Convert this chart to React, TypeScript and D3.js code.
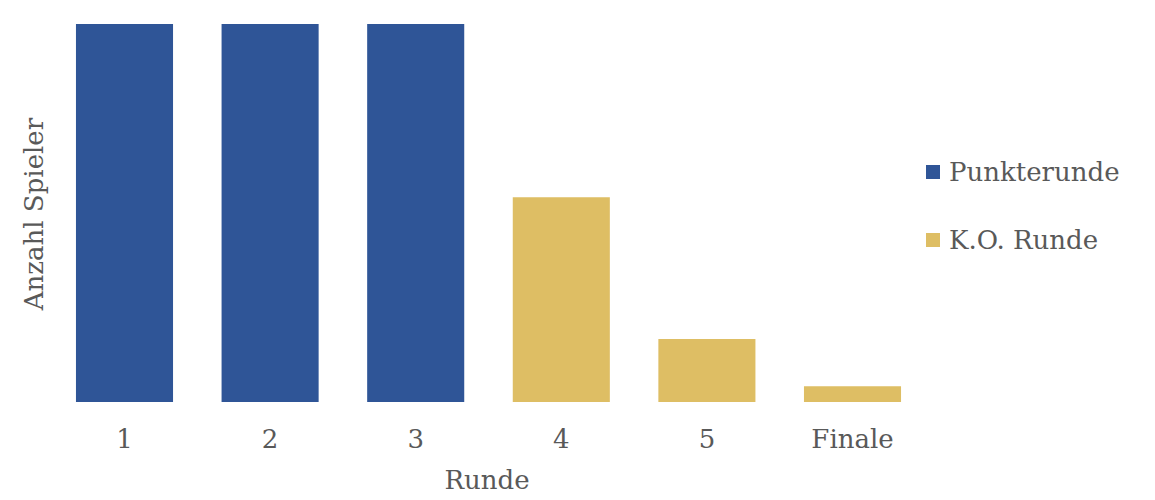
import * as d3 from "d3";

const rounds = ["1", "2", "3", "4", "5", "Finale"];
const players = [24, 24, 24, 13, 4, 1];
const phase = ["Punkterunde", "Punkterunde", "Punkterunde", "K.O. Runde", "K.O. Runde", "K.O. Runde"];
const legendItems = ["Punkterunde", "K.O. Runde"];

const W = 1155;
const H = 500;
const FONT = "'DejaVu Serif', serif";
const TEXT = "#595959";

export default function App() {
  const x = d3.scaleBand<string>()
    .domain(rounds)
    .range([51.7, 925.3])
    .paddingInner(1 / 3)
    .paddingOuter(1 / 6);

  const y = d3.scaleLinear().domain([0, 24]).range([402, 24]);

  const color = d3.scaleOrdinal<string, string>()
    .domain(legendItems)
    .range(["#2F5597", "#DEBE64"]);

  return (
    <svg width={W} height={H} style={{ position: "absolute", left: 0, top: 0 }}>
      <rect width={W} height={H} fill="#fff" />
      {rounds.map((r, i) => (
        <rect
          key={r}
          x={x(r)}
          y={y(players[i])}
          width={x.bandwidth()}
          height={y(0) - y(players[i])}
          fill={color(phase[i])}
        />
      ))}
      {rounds.map((r) => (
        <text
          key={"t" + r}
          x={(x(r) ?? 0) + x.bandwidth() / 2}
          y={448}
          textAnchor="middle"
          fontFamily={FONT}
          fontSize={26}
          fill={TEXT}
        >
          {r}
        </text>
      ))}
      <text x={487} y={489} textAnchor="middle" fontFamily={FONT} fontSize={26} fill={TEXT}>
        Runde
      </text>
      <text
        transform={`translate(43,${214}) rotate(-90)`}
        textAnchor="middle"
        fontFamily={FONT}
        fontSize={26}
        fill={TEXT}
      >
        Anzahl Spieler
      </text>
      {legendItems.map((l, i) => (
        <g key={l} transform={`translate(926,${165 + i * 68})`}>
          <rect width={14} height={14} fill={color(l)} />
          <text x={23} y={16} fontFamily={FONT} fontSize={26} fill={TEXT}>
            {l}
          </text>
        </g>
      ))}
    </svg>
  );
}
